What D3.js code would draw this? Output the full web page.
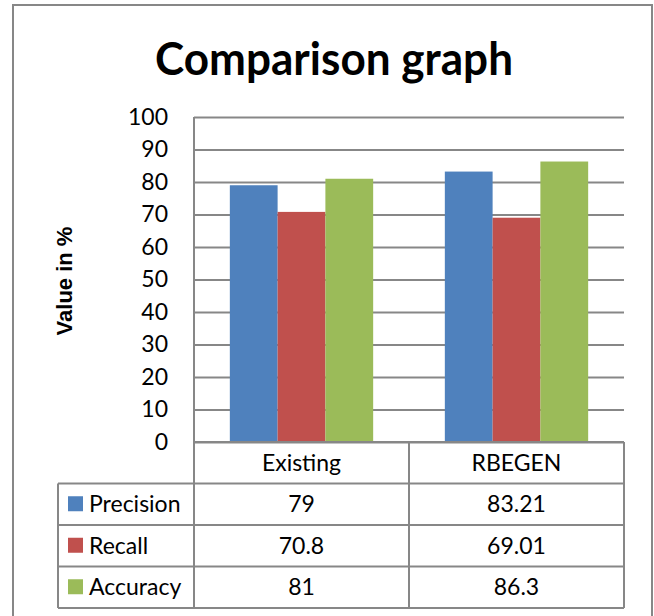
<!DOCTYPE html>
<html>
<head>
<meta charset="utf-8">
<script src="https://cdn.jsdelivr.net/npm/d3@7"></script>
<style>
  html, body { margin: 0; padding: 0; background: #fff; }
  svg { display: block; }
</style>
</head>
<body>
<svg id="chart" width="654" height="616"></svg>
<script>
// ---- Data ----
const categories = ["Existing", "RBEGEN"];
const seriesNames = ["Precision", "Recall", "Accuracy"];
const precisionValues = [79, 83.21];
const recallValues = [70.8, 69.01];
const accuracyValues = [81, 86.3];
const valueLabels = [["79", "83.21"], ["70.8", "69.01"], ["81", "86.3"]];
const yTicks = [0, 10, 20, 30, 40, 50, 60, 70, 80, 90, 100];
const titleText = "Comparison graph";
const yAxisTitle = "Value in %";
const seriesColors = ["#4F81BD", "#C0504D", "#9BBB59"];

const seriesValues = [precisionValues, recallValues, accuracyValues];

// ---- Layout ----
const svg = d3.select("#chart");
const plotLeft = 194, plotRight = 624, plotTop = 117, plotBottom = 442;
const rowH = 41.5;
const tableLeft = 58;
const gridColor = "#878787";
const font = "Lato, 'Open Sans', sans-serif";

const x0 = d3.scaleBand().domain(categories).range([plotLeft, plotRight]).paddingInner(0).paddingOuter(0);
const x1 = d3.scaleBand().domain(seriesNames).range([0, x0.bandwidth()]).paddingInner(0).paddingOuter(0.75);
const y = d3.scaleLinear().domain([0, 100]).range([plotBottom, plotTop]);

// outer border
svg.append("rect")
  .attr("x", 13).attr("y", 5).attr("width", 639).attr("height", 620)
  .attr("fill", "none").attr("stroke", gridColor).attr("stroke-width", 2);

// title
const title = svg.append("text")
  .attr("x", 334).attr("y", 75)
  .attr("text-anchor", "middle")
  .attr("font-family", font).attr("font-weight", "bold")
  .attr("font-size", 46).attr("fill", "#000")
  .text(titleText);
title.attr("textLength", 358).attr("lengthAdjust", "spacingAndGlyphs");

// gridlines + tick labels via axis
const yAxis = d3.axisLeft(y).tickValues(yTicks).tickSize(-(plotRight - plotLeft)).tickPadding(26).tickFormat(d3.format("d"));
const gAxis = svg.append("g").attr("transform", `translate(${plotLeft},0)`).call(yAxis);
gAxis.select(".domain").remove();
gAxis.selectAll(".tick line").attr("stroke", gridColor).attr("stroke-width", 2);
gAxis.selectAll(".tick text")
  .attr("font-family", font).attr("font-size", 23).attr("fill", "#000");

// y axis title
svg.append("text")
  .attr("transform", "translate(72,281) rotate(-90)")
  .attr("text-anchor", "middle")
  .attr("font-family", "'Liberation Sans', Arial, sans-serif")
  .attr("font-weight", "bold").attr("font-size", 22).attr("fill", "#000")
  .text(yAxisTitle);

// bars
const groups = svg.append("g").selectAll("g")
  .data(categories).join("g")
  .attr("transform", d => `translate(${x0(d)},0)`);
groups.selectAll("rect")
  .data((c, ci) => seriesNames.map((s, si) => ({ s, si, v: seriesValues[si][ci] })))
  .join("rect")
  .attr("x", d => x1(d.s))
  .attr("y", d => y(d.v))
  .attr("width", x1.bandwidth())
  .attr("height", d => y(0) - y(d.v))
  .attr("fill", d => seriesColors[d.si]);

// ---- Data table ----
const tbl = svg.append("g");
const lineAttrs = sel => sel.attr("stroke", gridColor).attr("stroke-width", 2).attr("fill", "none");
const tableBottom = plotBottom + rowH * 4;

// horizontal lines
tbl.append("line").attr("x1", plotLeft).attr("x2", plotRight).attr("y1", plotBottom).attr("y2", plotBottom).call(lineAttrs);
for (let r = 1; r <= 4; r++) {
  tbl.append("line").attr("x1", tableLeft).attr("x2", plotRight)
    .attr("y1", plotBottom + rowH * r).attr("y2", plotBottom + rowH * r).call(lineAttrs);
}
// vertical lines
tbl.append("line").attr("x1", tableLeft).attr("x2", tableLeft).attr("y1", plotBottom + rowH).attr("y2", tableBottom).call(lineAttrs);
[plotLeft, x0(categories[1]), plotRight].forEach(xx => {
  tbl.append("line").attr("x1", xx).attr("x2", xx).attr("y1", xx === plotLeft ? plotTop : plotBottom).attr("y2", tableBottom).call(lineAttrs);
});

// header labels
categories.forEach(c => {
  tbl.append("text")
    .attr("x", x0(c) + x0.bandwidth() / 2).attr("y", plotBottom + rowH / 2)
    .attr("dy", "0.35em").attr("text-anchor", "middle")
    .attr("font-family", font).attr("font-size", 23).attr("fill", "#000")
    .text(c);
});

// rows
seriesNames.forEach((s, si) => {
  const cy = plotBottom + rowH * (si + 1) + rowH / 2;
  tbl.append("rect").attr("x", 68).attr("y", cy - 8).attr("width", 15).attr("height", 15)
    .attr("fill", seriesColors[si]);
  tbl.append("text").attr("x", 89).attr("y", cy).attr("dy", "0.35em")
    .attr("font-family", font).attr("font-size", 23).attr("fill", "#000").text(s);
  categories.forEach((c, ci) => {
    tbl.append("text")
      .attr("x", x0(c) + x0.bandwidth() / 2).attr("y", cy).attr("dy", "0.35em")
      .attr("text-anchor", "middle")
      .attr("font-family", font).attr("font-size", 23).attr("fill", "#000")
      .text(valueLabels[si][ci]);
  });
});
</script>
</body>
</html>
